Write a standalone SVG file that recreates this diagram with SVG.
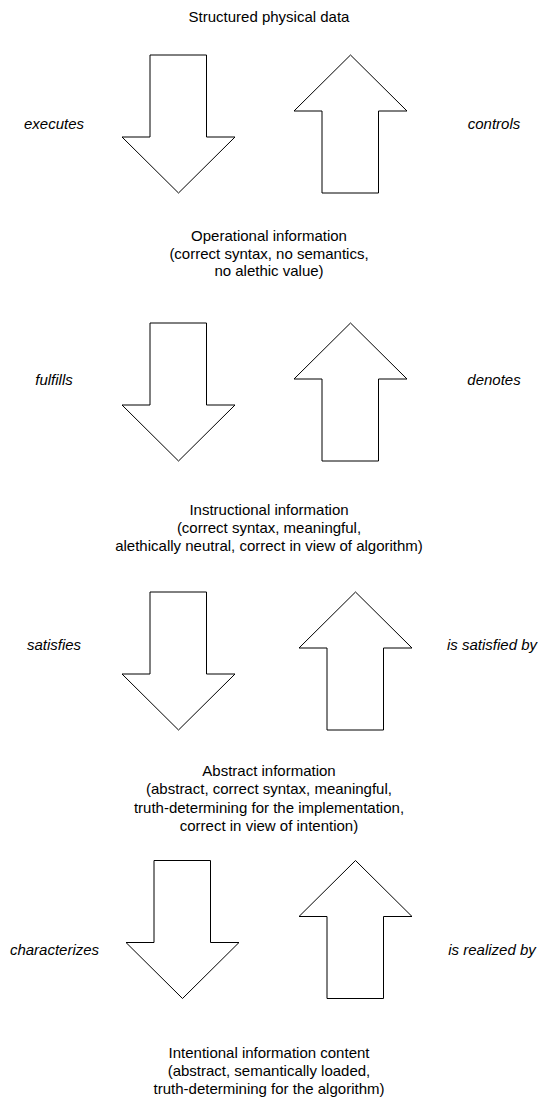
<svg xmlns="http://www.w3.org/2000/svg" width="538" height="1100" viewBox="0 0 538 1100">
  <style>
    text { font-family: "Liberation Sans", Arial, Helvetica, sans-serif; font-size: 15px; fill: #000; }
    .c { text-anchor: middle; }
    .lbl { font-style: italic; text-anchor: middle; }
    .arrow { fill: #fff; stroke: #000; stroke-width: 1; stroke-linejoin: miter; }
  </style>
  <defs>
    <path id="down" d="M28,0 H84.5 V82 H113 L56.5,138 L0,82 H28 Z"/>
    <path id="up" d="M56.5,0 L113,56 H84.5 V138 H28 V56 H0 Z"/>
  </defs>
  <rect width="538" height="1100" fill="#fff"/>

  <g id="structured-physical-data">
    <text class="c" x="269" y="22">Structured physical data</text>
  </g>

  <g id="operational-information">
    <text class="c" x="269" y="240.5">Operational information</text>
    <text class="c" x="269" y="258.5">(correct syntax, no semantics,</text>
    <text class="c" x="269" y="276">no alethic value)</text>
  </g>

  <g id="instructional-information">
    <text class="c" x="269" y="514.5">Instructional information</text>
    <text class="c" x="269" y="532.5">(correct syntax, meaningful,</text>
    <text class="c" x="269" y="550.5">alethically neutral, correct in view of algorithm)</text>
  </g>

  <g id="abstract-information">
    <text class="c" x="269" y="775.5">Abstract information</text>
    <text class="c" x="269" y="794">(abstract, correct syntax, meaningful,</text>
    <text class="c" x="269" y="812.5">truth-determining for the implementation,</text>
    <text class="c" x="269" y="831">correct in view of intention)</text>
  </g>

  <g id="intentional-information-content">
    <text class="c" x="269" y="1057.5">Intentional information content</text>
    <text class="c" x="269" y="1075.5">(abstract, semantically loaded,</text>
    <text class="c" x="269" y="1093.5">truth-determining for the algorithm)</text>
  </g>

  <g id="connectors">
    <g id="executes">
      <use href="#down" class="arrow" transform="translate(122,55)"/>
      <text class="lbl" x="54" y="128.5">executes</text>
    </g>
    <g id="controls">
      <use href="#up" class="arrow" transform="translate(294,55)"/>
      <text class="lbl" x="494" y="128.5">controls</text>
    </g>
    <g id="fulfills">
      <use href="#down" class="arrow" transform="translate(122,323)"/>
      <text class="lbl" x="54" y="385">fulfills</text>
    </g>
    <g id="denotes">
      <use href="#up" class="arrow" transform="translate(294,323)"/>
      <text class="lbl" x="494" y="385">denotes</text>
    </g>
    <g id="satisfies">
      <use href="#down" class="arrow" transform="translate(122,592)"/>
      <text class="lbl" x="54" y="650">satisfies</text>
    </g>
    <g id="is-satisfied-by">
      <use href="#up" class="arrow" transform="translate(299,592)"/>
      <text class="lbl" x="492" y="650">is satisfied by</text>
    </g>
    <g id="characterizes">
      <use href="#down" class="arrow" transform="translate(126,860.5)"/>
      <text class="lbl" x="54.5" y="954.5">characterizes</text>
    </g>
    <g id="is-realized-by">
      <use href="#up" class="arrow" transform="translate(299,860.5)"/>
      <text class="lbl" x="492" y="954.5">is realized by</text>
    </g>
  </g>
</svg>
